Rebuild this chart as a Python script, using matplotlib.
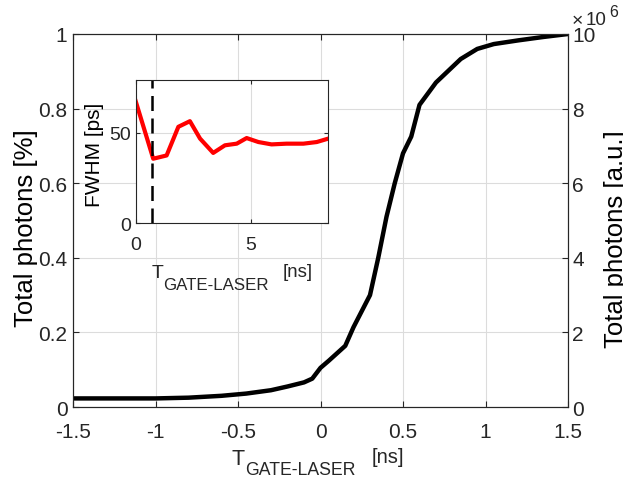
import matplotlib
matplotlib.use('Agg')
import matplotlib.pyplot as plt
import numpy as np

# main curve: normalised total photons vs gate-laser delay
t_ns = [-1.5, -1.0, -0.8, -0.6, -0.45, -0.3, -0.2, -0.1, -0.05, 0.0, 0.05,
        0.15, 0.2, 0.25, 0.3, 0.35, 0.4, 0.45, 0.5, 0.55, 0.6, 0.7, 0.85,
        0.95, 1.05, 1.2, 1.35, 1.5]
photons = [0.023, 0.023, 0.025, 0.030, 0.036, 0.045, 0.055, 0.066, 0.076,
           0.105, 0.124, 0.164, 0.214, 0.257, 0.30, 0.40, 0.51, 0.60, 0.68,
           0.725, 0.81, 0.87, 0.933, 0.96, 0.973, 0.983, 0.992, 1.0]
max_counts = 10e6

# inset: FWHM vs gate-laser delay
t_inset = [0.0, 0.76, 1.34, 1.85, 2.35, 2.79, 3.36, 3.87, 4.38, 4.81, 5.32,
           5.89, 6.54, 7.27, 7.85, 8.35]
fwhm = [67.3, 35.6, 37.4, 53.2, 56.3, 46.7, 38.8, 43.0, 43.9, 47.0, 44.8,
        43.5, 43.9, 43.9, 44.8, 46.7]
t_mark = 0.69

W, H = 623, 481
plt.rcParams['font.family'] = ['Liberation Sans', 'DejaVu Sans']
edge = '#262626'
plt.rcParams['axes.edgecolor'] = edge
plt.rcParams['xtick.color'] = edge
plt.rcParams['ytick.color'] = edge
plt.rcParams['text.color'] = edge


def px_text(fig, x, y, s, size):
  # x, y in pixels from top-left, y is the baseline
  fig.text(x / W, 1 - y / H, s, fontsize=size, va='baseline', ha='left')


def gate_label(fig, x_t, y_t, x_sub, y_sub, x_ns, y_ns, big, small, ns_size):
  # T_{GATE-LASER} [ns] built from pieces
  px_text(fig, x_t, y_t, 'T', big)
  px_text(fig, x_sub, y_sub, 'GATE-LASER', small)
  px_text(fig, x_ns, y_ns, '[ns]', ns_size)


fig = plt.figure(figsize=(W / 100, H / 100), dpi=100)
ax = fig.add_axes([73 / W, 1 - 408 / H, 495 / W, 373 / H])
ax.plot(t_ns, photons, color='k', lw=3.2)
ax.set_xlim(-1.5, 1.5)
ax.set_ylim(0, 1)
ax.set_xticks(np.arange(-1.5, 1.51, 0.5))
ax.set_xticklabels(['-1.5', '-1', '-0.5', '0', '0.5', '1', '1.5'])
ax.set_yticks(np.arange(0, 1.01, 0.2))
ax.set_yticklabels(['0', '0.2', '0.4', '0.6', '0.8', '1'])
ax.grid(True, color='#dcdcdc', lw=0.8)
ax.tick_params(direction='in', labelsize=15, length=4, top=True, width=0.8)
ax.tick_params(axis='x', pad=11)
ax.tick_params(axis='y', pad=4)
ax.set_ylabel('Total photons [%]', fontsize=18.5, va='center')
ax.yaxis.set_label_coords(-0.095, 0.481)
gate_label(fig, 232, 465, 245, 475, 372, 463, 15.5, 12.7, 14.5)

ax2 = ax.twinx()
ax2.set_ylim(0, max_counts / 1e6)
ax2.set_yticks([0, 2, 4, 6, 8, 10])
ax2.tick_params(direction='in', labelsize=15, length=4, width=0.8, pad=3)
ax2.set_ylabel('Total photons [a.u.]', fontsize=18.5, va='center')
ax2.yaxis.set_label_coords(1.097, 0.453)
# x10^6 multiplier
px_text(fig, 572, 26, '\u00d7', 14)
px_text(fig, 586, 25, '10', 13.5)
px_text(fig, 609, 17, '6', 11.5)

ins = fig.add_axes([135.7 / W, 1 - 224.3 / H, 192.6 / W, 143.3 / H])
ins.plot(t_inset, fwhm, color='red', lw=3)
ins.axvline(t_mark, color='k', ls=(0, (6, 3)), lw=1.8)
ins.set_xlim(0, 8.35)
ins.set_ylim(0, 79)
ins.set_xticks([0, 5])
ins.set_yticks([0, 50])
ins.grid(True, color='#dcdcdc', lw=0.8)
ins.tick_params(direction='in', labelsize=14, length=3, top=True, right=True, width=0.8)
ins.tick_params(axis='x', pad=9)
ins.set_ylabel('FWHM [ps]', fontsize=15, va='center')
ins.yaxis.set_label_coords(-0.2165, 0.487)
gate_label(fig, 152, 278, 163, 290, 283, 277, 14, 12.2, 13.4)

fig.savefig('out.png', dpi=100)
